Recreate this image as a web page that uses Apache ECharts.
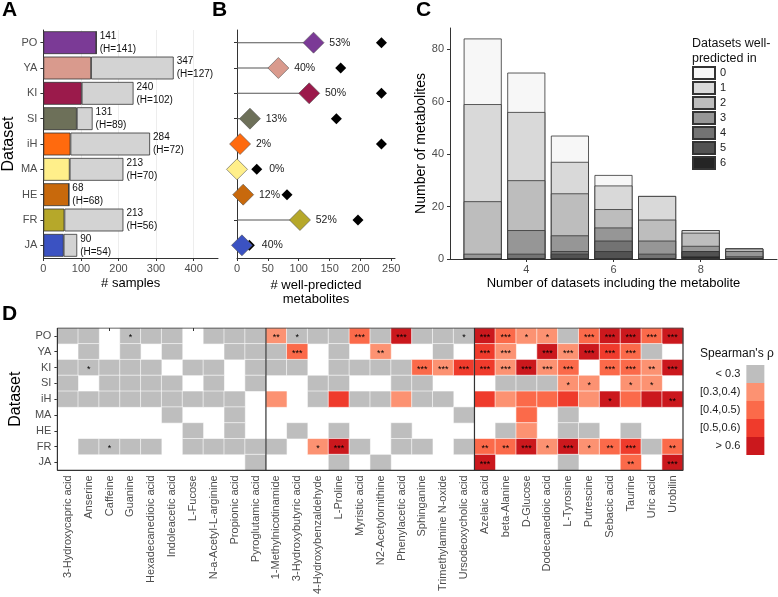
<!DOCTYPE html>
<html>
<head>
<meta charset="utf-8">
<title>Datasets and well-predicted metabolites</title>
<script src="https://cdn.jsdelivr.net/npm/echarts@6.0.0/dist/echarts.min.js"></script>
<style>
  html, body { margin: 0; padding: 0; background: #fff; }
  #chart { width: 778px; height: 597px; }
</style>
</head>
<body>
<div id="chart"></div>
<script>
// ---- data ----
const datasets = ['PO', 'YA', 'KI', 'SI', 'iH', 'MA', 'HE', 'FR', 'JA'];

// A: samples per dataset, and healthy ones (H)
const totalSamples = [141, 347, 240, 131, 284, 213, 68, 213, 90];
const healthySamples = [141, 127, 102, 89, 72, 70, 68, 56, 54];
const sampleTicks = [0, 100, 200, 300, 400];

// B: well-predicted metabolites vs metabolites measured
const wellPredicted = [124, 67, 117, 21, 5, 0, 10, 102, 8];
const measuredMetabolites = [234, 168, 234, 161, 234, 32, 81, 196, 20];
const metaboliteTicks = [0, 50, 100, 150, 200, 250];

// C: metabolites by number of datasets including them, split by
// number of datasets they are well-predicted in (0..6)
const datasetCounts = [3, 4, 5, 6, 7, 8, 9];
const predictedInLevels = ['0', '1', '2', '3', '4', '5', '6'];
const countsPredicted0 = [25, 15, 10, 4, 0, 0, 0];
const countsPredicted1 = [37, 26, 12, 9, 9, 1, 0];
const countsPredicted2 = [20, 19, 16, 7, 8, 5, 1];
const countsPredicted3 = [2, 9, 6, 5, 5, 2, 2];
const countsPredicted4 = [0, 2, 1, 4, 2, 0, 1];
const countsPredicted5 = [0, 0, 2, 3, 0, 2, 0];
const countsPredicted6 = [0, 0, 0, 0, 0, 1, 0];
const countsByLevel = [countsPredicted0, countsPredicted1, countsPredicted2, countsPredicted3,
  countsPredicted4, countsPredicted5, countsPredicted6];
const countTicksX = [4, 6, 8];
const countTicksY = [0, 20, 40, 60, 80];

// D: Spearman's rho bins per dataset x metabolite
// 0 = not available, 1 = <0.3, 2 = [0.3,0.4), 3 = [0.4,0.5), 4 = [0.5,0.6), 5 = >0.6
const metabolites = [
  '3-Hydroxycapric acid', 'Anserine', 'Caffeine', 'Guanine', 'Hexadecanedioic acid',
  'Indoleacetic acid', 'L-Fucose', 'N-a-Acetyl-L-arginine', 'Propionic acid', 'Pyroglutamic acid',
  '1-Methylnicotinamide', '3-Hydroxybutyric acid', '4-Hydroxybenzaldehyde', 'L-Proline', 'Myristic acid',
  'N2-Acetylornithine', 'Phenylacetic acid', 'Sphinganine', 'Trimethylamine N-oxide', 'Ursodeoxycholic acid',
  'Azelaic acid', 'beta-Alanine', 'D-Glucose', 'Dodecanedioic acid', 'L-Tyrosine',
  'Putrescine', 'Sebacic acid', 'Taurine', 'Uric acid', 'Urobilin'
];
const metaboliteGroupSizes = [10, 10, 10];
const rhoBins = ['< 0.3', '[0.3,0.4)', '[0.4,0.5)', '[0.5,0.6)', '> 0.6'];
const rhoLevels = [
  [1,1,0,1,1,1,0,1,1,1, 2,1,1,1,3,1,5,1,1,1, 5,3,2,2,1,3,5,5,3,5], // PO
  [0,1,0,1,0,1,0,0,1,1, 1,3,0,1,0,2,0,0,1,0, 4,2,0,5,2,5,4,3,1,0], // YA
  [1,1,1,1,1,0,1,1,0,1, 1,1,0,1,1,1,1,3,2,4, 4,2,5,2,3,0,3,3,2,5], // KI
  [1,0,1,1,1,1,0,1,0,1, 0,0,1,1,0,0,1,1,0,0, 0,1,1,1,2,2,0,2,2,0], // SI
  [1,1,1,1,1,1,1,1,1,0, 2,0,1,4,1,1,2,1,1,0, 4,2,3,3,4,2,5,3,5,5], // iH
  [0,0,0,0,0,1,0,0,1,0, 0,0,0,0,0,0,0,0,0,1, 0,0,3,0,1,0,0,0,0,0], // MA
  [0,0,0,0,0,0,1,0,1,0, 0,1,0,1,0,0,1,0,0,0, 0,1,2,0,1,1,0,1,0,0], // HE
  [0,1,1,1,1,0,1,1,1,1, 1,0,2,5,1,0,1,1,0,1, 3,3,5,2,5,2,3,4,1,3], // FR
  [0,0,0,0,0,0,0,0,0,1, 0,0,0,1,0,1,0,0,0,0, 5,0,0,0,1,0,0,3,0,5]  // JA
];
const rhoStars = [
  [0,0,0,1,0,0,0,0,0,0, 2,1,0,0,3,0,3,0,0,1, 3,3,1,1,0,3,3,3,3,3],
  [0,0,0,0,0,0,0,0,0,0, 0,3,0,0,0,2,0,0,0,0, 3,3,0,3,3,3,3,3,0,0],
  [0,1,0,0,0,0,0,0,0,0, 0,0,0,0,0,0,0,3,3,3, 3,3,3,3,3,0,3,3,2,3],
  [0,0,0,0,0,0,0,0,0,0, 0,0,0,0,0,0,0,0,0,0, 0,0,0,0,1,1,0,1,1,0],
  [0,0,0,0,0,0,0,0,0,0, 0,0,0,0,0,0,0,0,0,0, 0,0,0,0,0,0,1,0,0,2],
  [0,0,0,0,0,0,0,0,0,0, 0,0,0,0,0,0,0,0,0,0, 0,0,0,0,0,0,0,0,0,0],
  [0,0,0,0,0,0,0,0,0,0, 0,0,0,0,0,0,0,0,0,0, 0,0,0,0,0,0,0,0,0,0],
  [0,0,1,0,0,0,0,0,0,0, 0,0,1,3,0,0,0,0,0,0, 2,2,3,1,3,1,2,3,0,2],
  [0,0,0,0,0,0,0,0,0,0, 0,0,0,0,0,0,0,0,0,0, 3,0,0,0,0,0,0,2,0,3]
];

// ---- styles ----
const FONT = '"Liberation Sans", Arial, sans-serif';
const LINE = '#333';
const TICK_TXT = '#4D4D4D';
const datasetColors = ['#7B3A96', '#D99A8D', '#9B1A4B', '#6D7059', '#FF6A0E',
  '#FFEF8A', '#C8690C', '#B6A82A', '#3B52C2'];
const greys = ['#F7F7F7', '#D9D9D9', '#BDBDBD', '#969696', '#737373', '#525252', '#252525'];
const rhoColors = ['#BEBEBE', '#FC9272', '#FB6A4A', '#EF3B2C', '#CB181D'];

const chart = echarts.init(document.getElementById('chart'), null, { renderer: 'canvas' });

const axisLine = { show: true, lineStyle: { color: LINE, width: 1 } };
const axisTick = { show: true, length: 3, lineStyle: { color: LINE } };
const tickText = { fontSize: 11, color: TICK_TXT, fontFamily: FONT };
const nameText = { fontSize: 13, color: '#000', fontFamily: FONT };

// heatmap cells (only measured pairs)
const heatData = [];
rhoLevels.forEach((row, r) => {
  row.forEach((lvl, c) => {
    if (lvl > 0) heatData.push({ value: [c, r, lvl], stars: rhoStars[r][c] });
  });
});

// frame + group separators for D, on an overlay value grid
const nCols = metabolites.length, nRows = datasets.length;
const frameLines = [[[0, 0], [nCols, 0], [nCols, nRows], [0, nRows], [0, 0]]];
let acc = 0;
metaboliteGroupSizes.slice(0, -1).forEach(s => {
  acc += s;
  frameLines.push([[acc, 0], [acc, nRows]]);
});

const series = [];

// A
series.push({
  type: 'bar', xAxisIndex: 0, yAxisIndex: 0, stack: 'samples', barWidth: '90%',
  data: healthySamples.map((v, i) => ({ value: v, itemStyle: { color: datasetColors[i] } })),
  itemStyle: { borderColor: LINE, borderWidth: 0.8 }
});
series.push({
  type: 'bar', xAxisIndex: 0, yAxisIndex: 0, stack: 'samples', barWidth: '90%',
  data: totalSamples.map((t, i) => t - healthySamples[i]),
  itemStyle: { color: '#D3D3D3', borderColor: LINE, borderWidth: 0.8 },
  label: {
    show: true, position: 'right', distance: 3, fontSize: 10, lineHeight: 13,
    color: '#111', fontFamily: FONT, align: 'left',
    formatter: p => totalSamples[p.dataIndex] + '\n(H=' + healthySamples[p.dataIndex] + ')'
  }
});

// B
const labelNearBlack = wellPredicted.map((v, i) => measuredMetabolites[i] - v < 40);
const pctText = i => Math.round(100 * wellPredicted[i] / measuredMetabolites[i]) + '%';
series.push({
  type: 'bar', xAxisIndex: 1, yAxisIndex: 1, barWidth: 1,
  data: wellPredicted, itemStyle: { color: '#555' }, z: 2
});
series.push({
  type: 'scatter', xAxisIndex: 1, yAxisIndex: 1, symbol: 'diamond', symbolSize: 11,
  data: measuredMetabolites.map((v, i) => ({
    value: [v, i],
    label: { show: labelNearBlack[i] }
  })),
  itemStyle: { color: '#000', opacity: 1 }, z: 3,
  label: {
    show: false, position: 'right', distance: 7, fontSize: 10.5, color: '#222', fontFamily: FONT,
    formatter: p => pctText(p.dataIndex)
  }
});
series.push({
  type: 'scatter', xAxisIndex: 1, yAxisIndex: 1, symbol: 'diamond', symbolSize: 21,
  data: wellPredicted.map((v, i) => ({
    value: [v, i],
    itemStyle: { color: datasetColors[i] },
    label: { show: !labelNearBlack[i] }
  })),
  itemStyle: { borderColor: '#555', borderWidth: 0.6, opacity: 1 }, z: 4,
  label: {
    position: 'right', distance: 5, fontSize: 10.5, color: '#222', fontFamily: FONT,
    formatter: p => pctText(p.dataIndex)
  }
});

// C: stacked segments drawn as overlapping cumulative bars
// (level 0 on top of the stack, so its bar reaches the full height)
predictedInLevels.forEach((name, l) => {
  const cumulative = datasetCounts.map((x, i) => {
    let s = 0;
    for (let k = l; k < countsByLevel.length; k++) s += countsByLevel[k][i];
    return [x, s];
  });
  series.push({
    type: 'bar', name, xAxisIndex: 2, yAxisIndex: 2, barWidth: 38, barGap: '-100%',
    data: cumulative,
    itemStyle: { color: greys[l], borderColor: LINE, borderWidth: 0.8 }
  });
});

// D
const heatIndex = series.length;
series.push({
  type: 'heatmap', xAxisIndex: 3, yAxisIndex: 3, data: heatData,
  itemStyle: { borderColor: '#fff', borderWidth: 0.6 },
  label: {
    show: true, fontSize: 9, color: '#000', fontFamily: FONT, offset: [0, 2],
    formatter: p => '*'.repeat(p.data.stars)
  },
  emphasis: { disabled: true }
});
frameLines.forEach(seg => {
  series.push({
    type: 'line', xAxisIndex: 4, yAxisIndex: 4, data: seg, symbol: 'none',
    lineStyle: { color: LINE, width: 1.2 }, z: 6, silent: true
  });
});

const option = {
  animation: false,
  textStyle: { fontFamily: FONT },
  title: [
    { text: 'A', left: 2, top: 0, padding: 0, textStyle: { fontSize: 21, fontWeight: 'bold', fontFamily: FONT, color: '#000' } },
    { text: 'B', left: 212, top: 0, padding: 0, textStyle: { fontSize: 21, fontWeight: 'bold', fontFamily: FONT, color: '#000' } },
    { text: 'C', left: 416, top: 0, padding: 0, textStyle: { fontSize: 21, fontWeight: 'bold', fontFamily: FONT, color: '#000' } },
    { text: 'D', left: 2, top: 304, padding: 0, textStyle: { fontSize: 21, fontWeight: 'bold', fontFamily: FONT, color: '#000' } },
    { text: 'Datasets well-\npredicted in', left: 692, top: 36, padding: 0,
      textStyle: { fontSize: 12.5, fontWeight: 'normal', lineHeight: 15, fontFamily: FONT, color: '#111' } },
    { text: "Spearman's \u03c1", left: 700, top: 348, padding: 0,
      textStyle: { fontSize: 12, fontWeight: 'normal', fontFamily: FONT, color: '#111' } }
  ],
  grid: [
    { left: 40, top: 30, width: 178, height: 228 },
    { left: 237, top: 30, width: 158, height: 228 },
    { left: 450, top: 28, width: 327, height: 231 },
    { left: 38, top: 328, width: 645, height: 146 }
  ],
  xAxis: [
    {
      type: 'value', gridIndex: 0, min: 0, max: 465,
      axisLine, axisTick: Object.assign({ customValues: sampleTicks }, axisTick),
      axisLabel: Object.assign({ customValues: sampleTicks, margin: 5 }, tickText),
      splitLine: { show: true, lineStyle: { color: '#EDEDED' } },
      name: '# samples', nameLocation: 'middle', nameGap: 19, nameTextStyle: nameText
    },
    {
      type: 'value', gridIndex: 1, min: 0, max: 256,
      axisLine, axisTick: Object.assign({ customValues: metaboliteTicks }, axisTick),
      axisLabel: Object.assign({ customValues: metaboliteTicks, margin: 5 }, tickText),
      splitLine: { show: false },
      name: '# well-predicted\nmetabolites', nameLocation: 'middle', nameGap: 20,
      nameTextStyle: Object.assign({ lineHeight: 14 }, nameText)
    },
    {
      type: 'value', gridIndex: 2, min: 2.25, max: 9.75,
      axisLine, axisTick: Object.assign({ customValues: countTicksX }, axisTick),
      axisLabel: Object.assign({ customValues: countTicksX, margin: 5 }, tickText),
      splitLine: { show: false },
      name: 'Number of datasets including the metabolite', nameLocation: 'middle', nameGap: 18,
      nameTextStyle: nameText
    },
    {
      type: 'category', gridIndex: 3, data: metabolites,
      axisLine: { show: false },
      axisTick: Object.assign({ alignWithLabel: true }, axisTick),
      axisLabel: Object.assign({ rotate: 90, interval: 0, margin: 5 }, tickText),
      splitLine: { show: false }
    },
    { type: 'value', gridIndex: 3, min: 0, max: nCols, show: false }
  ],
  yAxis: [
    {
      type: 'category', gridIndex: 0, data: datasets, inverse: true,
      axisLine, axisTick: Object.assign({ alignWithLabel: true }, axisTick),
      axisLabel: Object.assign({ margin: 6 }, tickText),
      name: 'Dataset', nameLocation: 'middle', nameGap: 24,
      nameTextStyle: Object.assign({}, nameText, { fontSize: 16 })
    },
    {
      type: 'category', gridIndex: 1, data: datasets, inverse: true,
      axisLine, axisTick: Object.assign({ alignWithLabel: true }, axisTick),
      axisLabel: { show: false }
    },
    {
      type: 'value', gridIndex: 2, min: 0, max: 88,
      axisLine, axisTick: Object.assign({ customValues: countTicksY }, axisTick),
      axisLabel: Object.assign({ customValues: countTicksY, margin: 6 }, tickText),
      splitLine: { show: false },
      name: 'Number of metabolites', nameLocation: 'middle', nameGap: 20,
      nameTextStyle: Object.assign({}, nameText, { fontSize: 14 })
    },
    {
      type: 'category', gridIndex: 3, data: datasets, inverse: true,
      axisLine: { show: false },
      axisTick: Object.assign({ alignWithLabel: true }, axisTick),
      axisLabel: Object.assign({ margin: 6 }, tickText),
      name: 'Dataset', nameLocation: 'middle', nameGap: 24,
      nameTextStyle: Object.assign({}, nameText, { fontSize: 16 })
    },
    { type: 'value', gridIndex: 3, min: 0, max: nRows, inverse: true, show: false }
  ],
  legend: {
    data: predictedInLevels.slice(), orient: 'vertical', left: 692, top: 66,
    icon: 'rect', itemWidth: 22, itemHeight: 12, itemGap: 1, padding: 0,
    selectedMode: false,
    textStyle: { fontSize: 11, lineHeight: 12, color: '#222', fontFamily: FONT }
  },
  visualMap: {
    type: 'piecewise', seriesIndex: heatIndex, dimension: 2, inverse: true,
    pieces: rhoBins.map((b, i) => ({ value: i + 1, label: b, color: rhoColors[i] })),
    orient: 'vertical', left: 700, top: 365, itemWidth: 18, itemHeight: 18, itemGap: 0,
    itemSymbol: 'rect', textGap: 6, padding: 0, selectedMode: false, showLabel: true,
    textStyle: { fontSize: 11, color: '#222', fontFamily: FONT }
  },
  series
};

chart.setOption(option);
</script>
</body>
</html>
